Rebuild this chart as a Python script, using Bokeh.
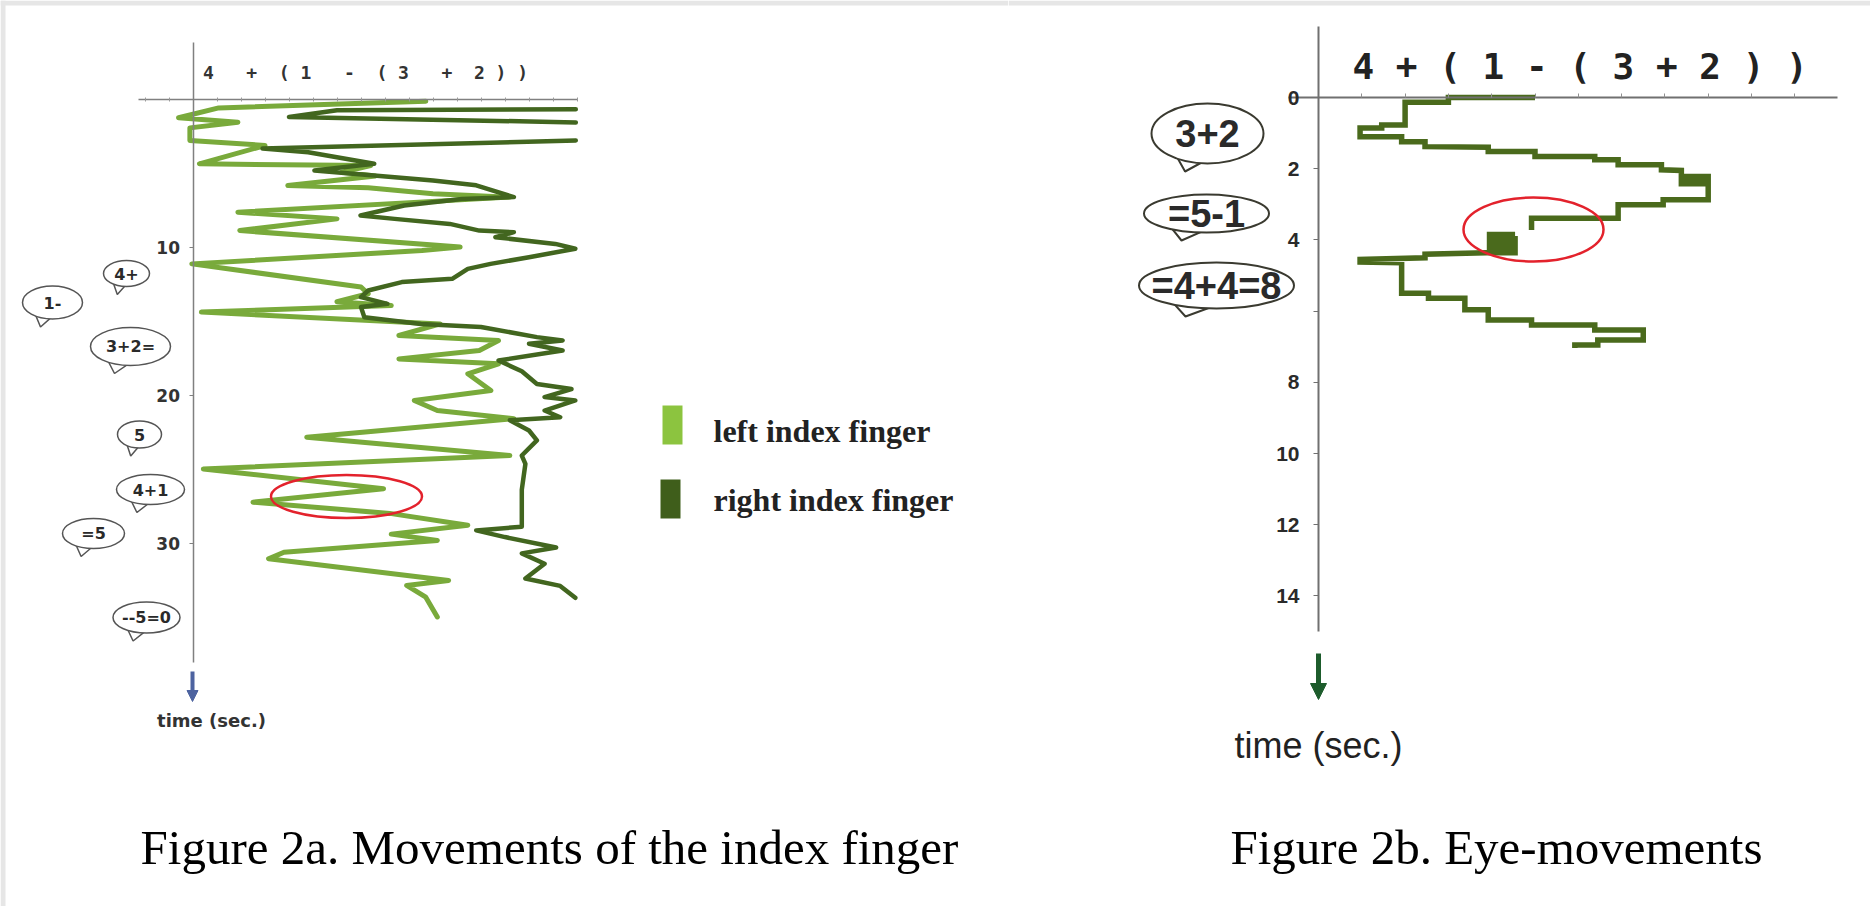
from bokeh.plotting import figure
from bokeh.layouts import row
from bokeh.models import (LinearAxis, FixedTicker, SingleIntervalTicker, Range1d,
                          Arrow, NormalHead)
from bokeh.core.properties import value
from bokeh.embed import file_html
from bokeh.resources import INLINE

NaN = float("nan")

# ---------------- data ----------------
# Figure 2a: finger position along the written expression (x) over time (t, sec.)
left_finger_x = [9.70, 1.07, -0.60, 1.87, -0.13, -0.13, 3.00, 0.27, 7.40, 6.20, 7.60, 3.95,
                 7.30, 10.00, 13.20, 1.87, 6.00, 1.95, 11.13, 9.54, -0.05, 7.00, 7.30, 6.00,
                 8.26, 0.35, 10.30, 8.58, 12.73, 11.93, 8.58, 12.73, 11.45, 12.41, 9.22,
                 10.18, 13.37, 4.74, 13.20, 0.43, 7.94, 2.50, 8.20, 11.45, 8.26, 10.18, 3.79,
                 3.15, 10.65, 8.90, 9.70, 10.18]
left_finger_t = [0.15, 0.60, 1.27, 1.57, 1.95, 2.80, 3.14, 4.38, 4.50, 4.95, 5.20, 5.85,
                 6.00, 6.40, 6.63, 7.65, 8.10, 8.89, 10.00, 10.24, 11.14, 12.70, 13.16, 13.70,
                 13.95, 14.40, 15.20, 15.98, 16.32, 16.99, 17.56, 17.89, 18.57, 19.70, 20.37,
                 21.05, 21.60, 22.85, 24.09, 25.00, 26.34, 27.24, 28.00, 28.80, 29.40, 29.83,
                 30.62, 31.07, 32.53, 32.87, 33.66, 35.00]

right_finger_x = [15.95, 6.00, 4.00, 15.95, NaN, 15.95, 2.90, 4.80, 7.55, 5.06, 7.54, 10.00,
                  11.80, 13.37, 11.20, 8.80, 6.98, 8.40, 10.70, 11.93, 13.37, 12.60, 15.10,
                  15.93, 14.00, 12.40, 11.45, 10.80, 8.70, 7.30, 7.00, 8.10, 7.00, 7.14, 9.50,
                  12.00, 14.33, 15.40, 14.00, 15.40, 12.73, 13.70, 14.33, 15.77, 14.65, 15.93,
                  14.65, 15.30, 13.20, 14.00, 14.33, 13.70, 13.85, 13.70, 13.70, 11.80, 13.00,
                  15.13, 13.70, 14.65, 13.85, 15.30, 15.93]
right_finger_t = [0.70, 0.76, 1.22, 1.58, NaN, 2.80, 3.35, 3.60, 4.38, 4.83, 5.17, 5.50,
                  5.83, 6.63, 6.75, 7.20, 7.87, 8.10, 8.44, 8.89, 9.00, 9.34, 9.79,
                  10.12, 10.69, 11.14, 11.48, 12.15, 12.37, 12.94, 13.39, 13.84, 14.06, 14.75,
                  15.20, 15.40, 16.09, 16.32, 16.54, 16.99, 17.67, 18.40, 19.25, 19.60, 20.14,
                  20.37, 21.05, 21.50, 21.70, 22.40, 23.07, 24.09, 24.65, 26.40, 28.90, 29.15,
                  29.60, 30.30, 30.70, 31.40, 32.40, 32.90, 33.70]

# Figure 2b: eye position along the expression (x) over time (t, sec.)
eye_x = [5.00, 3.00, 3.00, 2.00, 2.00, 1.46, 1.46, 0.96, 0.96, 1.92, 1.92, 2.46, 2.46, 3.92,
         3.92, 5.00, 5.00, 6.38, 6.38, 6.92, 6.92, 7.92, 7.92, 8.38, 8.38, 9.00, 9.00, 8.38,
         8.38, 9.00, 9.00, 7.96, 7.96, 6.92, 6.92, 4.92, 4.92, NaN,
         4.54, 3.95, 3.95, 4.54, 4.54, 3.95, 3.95, 4.54, 4.54, 3.88, 2.46, 2.46, 0.96, 0.96,
         1.92, 1.92, 2.54, 2.54, 3.38, 3.38, 3.92, 3.92, 4.92, 4.92, 6.38, 6.38, 7.50, 7.50,
         6.45, 6.45, 5.92, 5.92]
eye_t = [0.00, 0.00, 0.13, 0.13, 0.77, 0.77, 0.86, 0.86, 1.10, 1.10, 1.24, 1.24, 1.38, 1.40,
         1.52, 1.52, 1.66, 1.66, 1.75, 1.75, 1.89, 1.89, 2.03, 2.05, 2.22, 2.22, 2.32, 2.32,
         2.42, 2.42, 2.87, 2.87, 3.01, 3.01, 3.39, 3.39, 3.72, NaN,
         3.85, 3.85, 3.97, 3.97, 4.09, 4.09, 4.21, 4.21, 4.36, 4.36, 4.40, 4.50, 4.55, 4.62,
         4.64, 5.50, 5.50, 5.64, 5.64, 5.96, 5.96, 6.25, 6.25, 6.39, 6.39, 6.53, 6.53, 6.81,
         6.81, 6.95, 6.95, 7.04]

fig2a_ticks = [10, 20, 30]
fig2b_ticks = [0, 2, 4, 6, 8, 10, 12, 14]
fig2a_bubbles = ["4+", "1-", "3+2=", "5", "4+1", "=5", "--5=0"]
fig2b_bubbles = ["3+2", "=5-1", "=4+4=8"]
series_names = ["left index finger", "right index finger"]
expr_small = "4 \u00a0\u00a0+ \u00a0( 1 \u00a0\u00a0- \u00a0( 3 \u00a0\u00a0+ \u00a02 ) )"
expr_big = "4 + ( 1 - ( 3 + 2 ) )"
captions = ["Figure 2a. Movements of the index finger", "Figure 2b. Eye-movements"]

# ---------------- layout (page pixels) ----------------
OX, OY = 0, 0
W1, W2, H = 1008, 862, 906

LIGHT = "#79aa3b"
DARK = "#42661f"
EYE = "#4a6a1c"
STRIP = "#e6e6e6"

# left panel scale: axis origin at page px (192.5, 98.5)
def lx(px): return (px - 192.5) / 24.0
def ly(py): return (py - 98.5) / 14.8
# right panel scale: origin at page px (1318, 97)
def rx(px): return (px - 1318.0) / 43.3
def ry(py): return (py - 97.0) / 35.6


def make_fig(w, fx, fy, x0):
    p = figure(width=w, height=H, x_range=Range1d(fx(x0), fx(x0 + w)),
               y_range=Range1d(fy(OY + H), fy(OY)),
               x_axis_location=None, y_axis_location=None,
               toolbar_location=None, output_backend="svg", min_border=0)
    p.outline_line_color = None
    p.background_fill_color = "white"
    p.border_fill_color = "white"
    try:
        p.grid.visible = False
    except Exception:
        pass
    # light grey scan border along the top edge
    p.quad(left=[fx(x0)], right=[fx(x0 + w)], top=[fy(0)], bottom=[fy(5)],
           fill_color=STRIP, line_color=None)
    return p


def bubbles(p, fx, fy, specs, texts, font, size, bold, color, lw):
    for t, (cx, cy, w, h) in zip(texts, specs):
        tx = [fx(cx - 0.30 * w), fx(cx - 0.20 * w), fx(cx - 0.02 * w)]
        ty = [fy(cy + 0.30 * h), fy(cy + 0.5 * h + 8), fy(cy + 0.45 * h)]
        p.patch(tx, ty, fill_color="white", line_color=color, line_width=lw)
        p.ellipse(x=[fx(cx)], y=[fy(cy)], width=w, height=h, width_units="screen",
                  height_units="screen", fill_color="white", line_color=color, line_width=lw)
        p.text(x=[fx(cx)], y=[fy(cy)], text=[t], text_font=value(font), text_font_size=size,
               text_font_style="bold" if bold else "normal", text_color="#2a2a2a",
               text_align="center", text_baseline="middle")


# ================= Figure 2a =================
p1 = make_fig(W1, lx, ly, OX)
p1.quad(left=[lx(0)], right=[lx(5)], top=[ly(0)], bottom=[ly(H)], fill_color=STRIP, line_color=None)

yax1 = LinearAxis(fixed_location=0, bounds=(ly(42), ly(662)), ticker=FixedTicker(ticks=fig2a_ticks),
                  axis_line_color="#808080", axis_line_width=1.5, major_tick_line_color="#808080",
                  major_tick_out=4, major_tick_in=0, minor_tick_line_color=None,
                  major_label_text_font="DejaVu Sans", major_label_text_font_size="17px",
                  major_label_text_font_style="bold", major_label_text_color="#333333",
                  major_label_standoff=9)
p1.add_layout(yax1, "left")
xax1 = LinearAxis(fixed_location=0, bounds=(lx(138), lx(577)), ticker=SingleIntervalTicker(interval=1),
                  axis_line_color="#808080", axis_line_width=1.5, major_tick_line_color="#9a9a9a",
                  major_tick_out=2, major_tick_in=2, minor_tick_line_color=None,
                  major_label_overrides={i: "" for i in range(-5, 40)})
p1.add_layout(xax1, "above")

p1.line(left_finger_x, left_finger_t, line_color=LIGHT, line_width=5,
        line_join="round", line_cap="round")
p1.line(right_finger_x, right_finger_t, line_color=DARK, line_width=4.5,
        line_join="round", line_cap="round")

p1.ellipse(x=[lx(346)], y=[ly(496)], width=151, height=43, width_units="screen",
           height_units="screen", fill_color=None, line_color="#e3222c", line_width=2.5)

p1.text(x=[lx(202.5)], y=[ly(72)], text=[expr_small], text_font=value("DejaVu Sans Mono"),
        text_font_size="18px", text_font_style="bold", text_color="#333333",
        text_align="left", text_baseline="middle")

left_specs = [(126, 273, 46, 26), (52, 302, 60, 33), (130, 346, 80, 38), (139, 434, 44, 27),
              (150, 489, 68, 30), (93, 533, 62, 30), (146, 617, 67, 31)]
bubbles(p1, lx, ly, left_specs, fig2a_bubbles, "DejaVu Sans", "16px", True, "#555555", 1.5)

p1.add_layout(Arrow(end=NormalHead(size=11, fill_color="#4d63a0", line_color="#4d63a0"),
                    x_start=lx(192), y_start=ly(671), x_end=lx(192), y_end=ly(701),
                    line_color="#4d63a0", line_width=4))
p1.text(x=[lx(211)], y=[ly(720)], text=["time (sec.)"], text_font=value("DejaVu Sans"),
        text_font_size="18px", text_font_style="bold", text_color="#333333",
        text_align="center", text_baseline="middle")

# legend
p1.quad(left=[lx(662), lx(660)], right=[lx(682), lx(680)], top=[ly(405), ly(479)],
        bottom=[ly(444), ly(518)], fill_color=["#8cc43f", "#3f5e1b"], line_color=None)
p1.text(x=[lx(713), lx(713)], y=[ly(430), ly(499)], text=series_names,
        text_font=value("Liberation Serif"), text_font_size="32px", text_font_style="bold",
        text_color="#222222", text_align="left", text_baseline="middle")

p1.text(x=[lx(549)], y=[ly(847)], text=[captions[0]], text_font=value("Liberation Serif"),
        text_font_size="49px", text_color="#000000", text_align="center",
        text_baseline="middle")

# ================= Figure 2b =================
p2 = make_fig(W2, rx, ry, OX + W1)

yax2 = LinearAxis(fixed_location=0, bounds=(-2, 15), ticker=FixedTicker(ticks=fig2b_ticks),
                  major_label_overrides={6: ""},
                  axis_line_color="#707070", axis_line_width=2, major_tick_line_color="#707070",
                  major_tick_out=5, major_tick_in=0, minor_tick_line_color=None,
                  major_label_text_font="Liberation Sans", major_label_text_font_size="21px",
                  major_label_text_font_style="bold", major_label_text_color="#2a2a2a",
                  major_label_standoff=14)
p2.add_layout(yax2, "left")
xax2 = LinearAxis(fixed_location=0, bounds=(rx(1288), rx(1837)), ticker=SingleIntervalTicker(interval=1),
                  axis_line_color="#707070", axis_line_width=2, major_tick_line_color="#909090",
                  major_tick_out=4, major_tick_in=0, minor_tick_line_color=None,
                  major_label_overrides={i: "" for i in range(-5, 20)})
p2.add_layout(xax2, "above")

p2.line(eye_x, eye_t, line_color=EYE, line_width=5.5, line_join="miter")

p2.ellipse(x=[rx(1533)], y=[ry(229)], width=140, height=64, width_units="screen",
           height_units="screen", fill_color=None, line_color="#e3222c", line_width=2.5)

p2.text(x=[rx(1352)], y=[ry(66)], text=[expr_big], text_font=value("DejaVu Sans Mono"),
        text_font_size="36px", text_font_style="bold", text_color="#222222",
        text_align="left", text_baseline="middle")

right_specs = [(1207, 133, 112, 60), (1206, 213, 125, 38), (1216, 285, 155, 46)]
bubbles(p2, rx, ry, right_specs, fig2b_bubbles, "Liberation Sans", "38px", True, "#3a3a30", 2)

p2.add_layout(Arrow(end=NormalHead(size=16, fill_color="#1d5c2c", line_color="#1d5c2c"),
                    x_start=rx(1318), y_start=ry(653), x_end=rx(1318), y_end=ry(699),
                    line_color="#1d5c2c", line_width=5))
p2.text(x=[rx(1318)], y=[ry(745)], text=["time (sec.)"], text_font=value("Liberation Sans"),
        text_font_size="36px", text_color="#222222", text_align="center", text_baseline="middle")

p2.text(x=[rx(1496)], y=[ry(847)], text=[captions[1]], text_font=value("Liberation Serif"),
        text_font_size="49px", text_color="#000000", text_align="center",
        text_baseline="middle")

layout = row(p1, p2)
open("out.html", "w").write(file_html(layout, INLINE))
